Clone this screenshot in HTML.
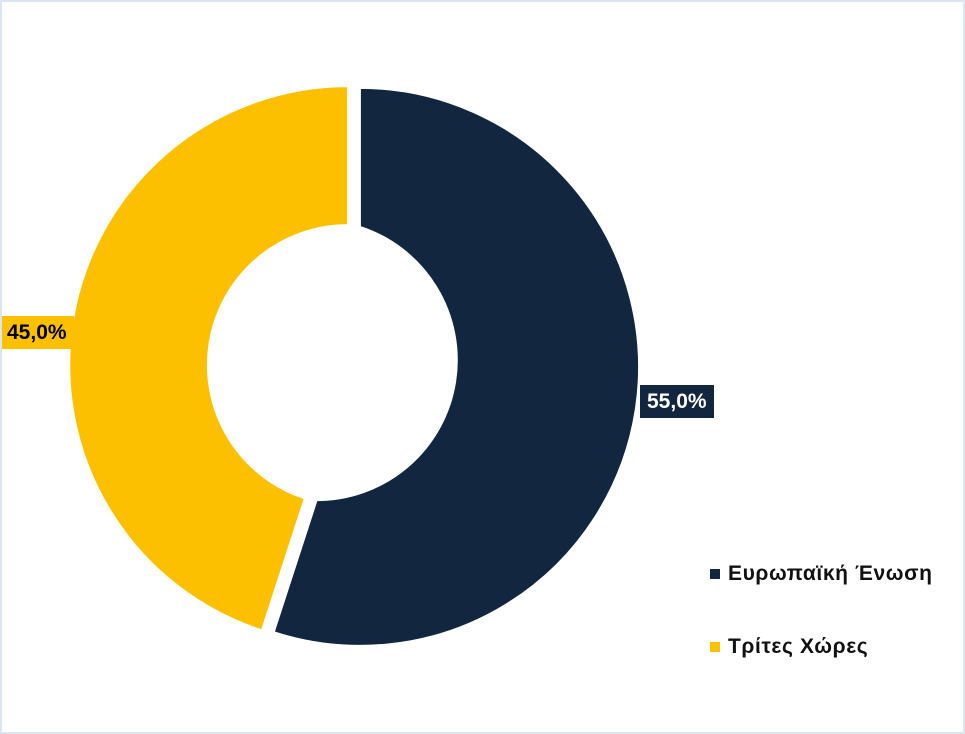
<!DOCTYPE html>
<html><head><meta charset="utf-8"><style>
html,body{margin:0;padding:0;background:#fff}
.w{position:relative;width:961px;height:730px;border:2px solid #dce6f2;background:#fff;overflow:hidden;font-family:"Liberation Sans",sans-serif}
svg{position:absolute;left:-2px;top:-2px}
.lbl{position:absolute;font-weight:bold;font-size:21px;line-height:33px;padding:0 7px}
.lg{position:absolute;font-size:21px;font-weight:bold;color:#111;white-space:nowrap;letter-spacing:0.6px}
.sq{display:inline-block;width:10px;height:10px;margin-right:8px;vertical-align:1px}
</style></head><body><div class="w">
<svg width="965" height="734">
<path d="M359.9,87.9 A279 279 0 1 1 273.7,632.2 L316.6,500.1 A140 140 0 0 0 359.9,226.9 Z" fill="#12263f" stroke="#fff" stroke-width="2"/>
<path d="M261.9,630.4 A279 279 0 0 1 348.1,86.1 L348.1,225.1 A140 140 0 0 0 304.8,498.3 Z" fill="#fdc000" stroke="#fff" stroke-width="2"/>
</svg>
<div class="lbl" style="left:638px;top:383px;background:#12263f;color:#fff">55,0%</div>
<div class="lbl" style="left:-2px;top:314px;background:#fdc000;color:#000">45,0%</div>
<div class="lg" style="left:708px;top:560px"><span class="sq" style="background:#12263f"></span>Ευρωπαϊκή Ένωση</div>
<div class="lg" style="left:708px;top:633px"><span class="sq" style="background:#fdc000"></span>Τρίτες Χώρες</div>
</div></body></html>
